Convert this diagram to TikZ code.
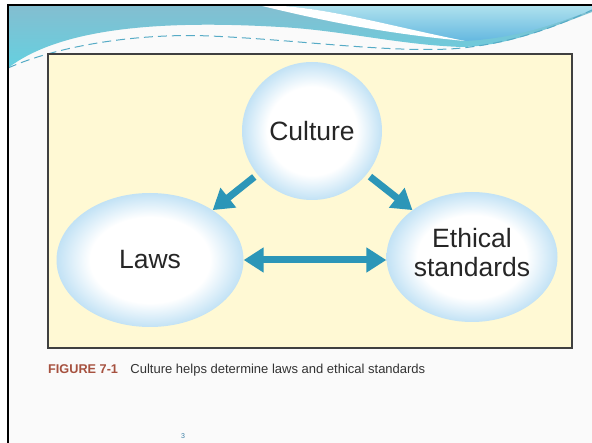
\documentclass[tikz,border=0pt]{standalone}
\usepackage{fontspec}
\setmainfont{Liberation Sans}
\usetikzlibrary{shapes.geometric,arrows.meta}
\definecolor{bubbleblue}{RGB}{194,226,245}
\definecolor{arrowteal}{RGB}{44,150,184}
\definecolor{panelyellow}{RGB}{255,249,212}
\definecolor{figred}{RGB}{166,81,63}
\definecolor{waveteal}{RGB}{100,208,224}
\definecolor{wavetop}{RGB}{132,190,208}
\definecolor{skyblue}{RGB}{176,226,238}
\definecolor{deepsky}{RGB}{100,184,224}
\definecolor{pagenum}{RGB}{59,127,165}
\pgfdeclareradialshading{bubble}{\pgfpointorigin}{color(0bp)=(white); color(16bp)=(white); color(25bp)=(bubbleblue); color(50bp)=(bubbleblue)}

\begin{document}
\begin{tikzpicture}[x=1pt,y=-1pt,
    bubble/.style={ellipse,shading=bubble,inner sep=0pt,text=black!85,
      font=\fontsize{26.5}{29.5}\selectfont,align=center},
    flow/.style={line width=7pt,arrowteal,-{Triangle[length=20pt,width=24pt]}}]
  \useasboundingbox (0,0) rectangle (592,443);
  % Slide background and top wave
  \fill[white] (0,0) rectangle (592,443);
  \fill[black!2] (8,5) rectangle (592,443);
  \shade[top color=wavetop,bottom color=waveteal] (8,5) -- (592,5) -- (592,12)
    .. controls (545,30) and (505,46) .. (462,47)
    .. controls (400,45) and (340,30) .. (280,27)
    .. controls (160,20) and (60,28) .. (8,68) -- cycle;
  \shade[top color=skyblue,bottom color=deepsky] (258,5)
    .. controls (320,5) and (380,24) .. (465,41)
    .. controls (520,38) and (560,22) .. (592,10) -- (592,5) -- cycle;
  \fill[white] (258,5) .. controls (320,5) and (380,24) .. (465,41)
    .. controls (380,33) and (320,20) .. (258,5) -- cycle;
  \draw[arrowteal!80,line width=1pt,dash pattern=on 9pt off 5pt] (8,68)
    .. controls (60,45) and (140,33) .. (210,36)
    .. controls (300,40) and (380,52) .. (450,49)
    .. controls (510,45) and (560,25) .. (592,10);
  % Frame
  \draw[line width=2pt] (8,443) -- (8,5) -- (592,5);
  % Figure panel
  \draw[fill=panelyellow,draw=black!75,line width=1.2pt] (48,54) rectangle (572,348);
  \node[bubble,minimum width=140pt,minimum height=138pt] (culture) at (312,131) {Culture};
  \node[bubble,minimum width=187pt,minimum height=134pt] (laws) at (150,260) {Laws};
  \node[bubble,minimum width=171pt,minimum height=130pt,text depth=9pt] (ethics) at (472,257) {Ethical\\standards};
  % Arrows between the bubbles
  \draw[flow,shorten <=4pt] (culture) -- (laws);
  \draw[flow,shorten <=4pt] (culture) -- (ethics);
  \draw[flow,{Triangle[length=20pt,width=24pt]}-{Triangle[length=20pt,width=24pt]}]
    (laws.east) -- (laws.east -| ethics.west);
  % Caption
  \node[anchor=base west,inner sep=0pt,text=figred,
    font=\bfseries\fontsize{12.7}{15}\selectfont] (fig) at (48,373.5) {FIGURE 7-1};
  \node[anchor=base west,inner sep=0pt,text=black!80,
    font=\fontsize{13}{15}\selectfont] (caption) at ([xshift=12pt]fig.base east)
    {Culture helps determine laws and ethical standards};
  \node[text=pagenum,font=\fontsize{7}{8}\selectfont] (pageno) at (183,436.5) {3};
\end{tikzpicture}
\end{document}
